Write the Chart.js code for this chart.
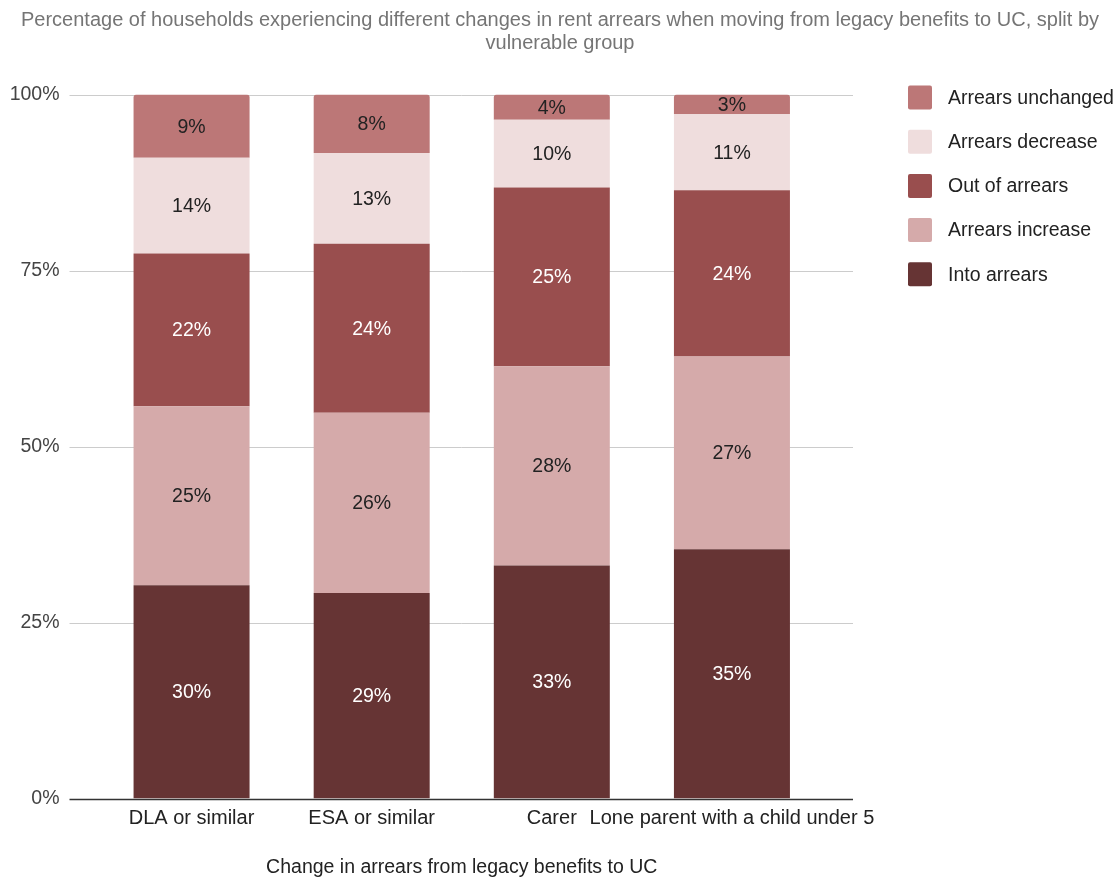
<!DOCTYPE html>
<html>
<head>
<meta charset="utf-8">
<script src="https://cdn.jsdelivr.net/npm/chart.js@4"></script>
<style>
  html, body { margin: 0; padding: 0; background: #fff; }
  #wrap { width: 1120px; height: 877px; }
</style>
</head>
<body>
<div id="wrap"><canvas id="chart" width="1120" height="877"></canvas></div>
<script>
const categories = ['DLA or similar', 'ESA or similar', 'Carer', 'Lone parent with a child under 5'];
// percentages, bottom of the stack first
const intoArrears = [30.3, 29.2, 33.1, 35.4];
const arrearsIncrease = [25.4, 25.6, 28.3, 27.4];
const outOfArrears = [21.7, 24.0, 25.4, 23.6];
const arrearsDecrease = [13.6, 12.9, 9.6, 10.8];
const arrearsUnchanged = [9.0, 8.3, 3.6, 2.8];
const yTicks = [0, 25, 50, 75, 100];

const FONT = "'Liberation Sans', Arial, sans-serif";

// grid lines run a bit past the plot area, like the original
const gridPlugin = {
    id: 'grid',
    beforeDatasetsDraw(chart) {
        const ctx = chart.ctx;
        const area = chart.chartArea;
        const y = chart.scales.y;
        ctx.save();
        yTicks.forEach(v => {
            const py = Math.round(y.getPixelForValue(v)) + 0.5;
            ctx.beginPath();
            ctx.moveTo(area.left - 32, py);
            ctx.lineTo(area.right + 31, py);
            ctx.strokeStyle = v === 0 ? '#333333' : '#cccccc';
            ctx.lineWidth = v === 0 ? 1.5 : 1;
            ctx.stroke();
        });
        ctx.restore();
    }
};

const labelPlugin = {
    id: 'segLabels',
    afterDatasetsDraw(chart) {
        const ctx = chart.ctx;
        ctx.save();
        ctx.font = '19.5px ' + FONT;
        ctx.textAlign = 'center';
        ctx.textBaseline = 'middle';
        chart.data.datasets.forEach((ds, i) => {
            const meta = chart.getDatasetMeta(i);
            meta.data.forEach((bar, j) => {
                ctx.fillStyle = ds.labelColor;
                ctx.fillText(Math.round(ds.data[j]) + '%', bar.x, (bar.y + bar.base) / 2 + 1);
            });
        });
        ctx.restore();
    }
};

const legendPlugin = {
    id: 'sideLegend',
    afterDraw(chart) {
        const ctx = chart.ctx;
        const area = chart.chartArea;
        const x0 = area.right + 86;
        ctx.save();
        ctx.font = '19.5px ' + FONT;
        ctx.textBaseline = 'middle';
        const sets = chart.data.datasets.slice().reverse();
        sets.forEach((ds, i) => {
            const cy = area.top + 3 + i * 44.2;
            ctx.fillStyle = ds.backgroundColor;
            ctx.beginPath();
            ctx.roundRect(x0, cy - 12, 24, 24, 2);
            ctx.fill();
            ctx.fillStyle = '#222222';
            ctx.fillText(ds.label, x0 + 40, cy + 1);
        });
        ctx.restore();
    }
};

const ctx = document.getElementById('chart').getContext('2d');
const chart = new Chart(ctx, {
    type: 'bar',
    data: {
        labels: categories,
        datasets: [
            { label: 'Into arrears', data: intoArrears, backgroundColor: '#663434', labelColor: '#ffffff' },
            { label: 'Arrears increase', data: arrearsIncrease, backgroundColor: '#d5aaaa', labelColor: '#222222' },
            { label: 'Out of arrears', data: outOfArrears, backgroundColor: '#994e4e', labelColor: '#ffffff' },
            { label: 'Arrears decrease', data: arrearsDecrease, backgroundColor: '#efdddd', labelColor: '#222222' },
            {
                label: 'Arrears unchanged', data: arrearsUnchanged, backgroundColor: '#bc7777', labelColor: '#222222',
                borderRadius: { topLeft: 3, topRight: 3, bottomLeft: 0, bottomRight: 0 }, borderSkipped: false
            }
        ]
    },
    options: {
        responsive: false,
        animation: false,
        layout: { padding: 0 },
        datasets: {
            bar: { categoryPercentage: 1, barPercentage: 0.644 }
        },
        plugins: {
            legend: { display: false },
            tooltip: { enabled: false },
            title: {
                display: true,
                text: ['Percentage of households experiencing different changes in rent arrears when moving from legacy benefits to UC, split by',
                       'vulnerable group'],
                color: '#757575',
                font: { family: FONT, size: 20, weight: 'normal', lineHeight: 1.15 },
                padding: { top: 8.5, bottom: 40 }
            }
        },
        scales: {
            x: {
                stacked: true,
                grid: { display: false, drawTicks: false },
                border: { display: false },
                ticks: {
                    autoSkip: false, maxRotation: 0, minRotation: 0,
                    color: '#222222', padding: 8,
                    font: { family: FONT, size: 20 }
                },
                title: {
                    display: true,
                    text: 'Change in arrears from legacy benefits to UC',
                    color: '#222222',
                    font: { family: FONT, size: 19.5, lineHeight: 1.0 },
                    padding: 0
                },
                afterFit(s) { s.height = 78.5; }
            },
            y: {
                stacked: true,
                min: 0, max: 100,
                grid: { display: false, drawTicks: false },
                border: { display: false },
                afterBuildTicks(s) { s.ticks = yTicks.map(v => ({ value: v })); },
                ticks: {
                    color: '#444444', padding: 42,
                    font: { family: FONT, size: 19.5 },
                    callback: v => v + '%'
                },
                afterFit(s) { s.width = 101.5; }
            },
            // empty axis that only keeps room for the legend on the right
            side: {
                type: 'linear', position: 'right', display: true,
                grid: { display: false, drawTicks: false },
                border: { display: false },
                ticks: { display: false },
                afterFit(s) { s.width = 298; }
            }
        }
    },
    plugins: [gridPlugin, labelPlugin, legendPlugin]
});
</script>
</body>
</html>
